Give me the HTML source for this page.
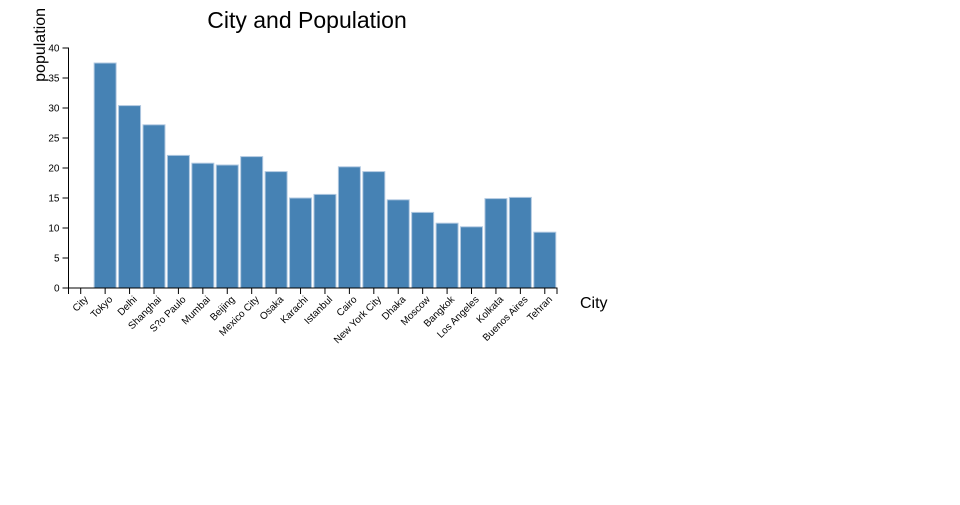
<!DOCTYPE html>
<html><head><meta charset="utf-8"><style>
body{margin:0;background:#fff;}
svg{font-family:"Liberation Sans","DejaVu Sans",sans-serif;}
</style></head><body>
<svg id="chart" width="960" height="500">
<text x="307" y="28" text-anchor="middle" font-size="23">City and Population</text>
<text transform="translate(45,8) rotate(-90)" text-anchor="end" font-size="16">population</text>
<text x="580" y="308" font-size="16">City</text>
<g id="bars"></g>
<g id="xaxis"></g>
<g id="yaxis"></g>
</svg>
<script>
const categories=["City","Tokyo","Delhi","Shanghai","S?o Paulo","Mumbai","Beijing","Mexico City","Osaka","Karachi","Istanbul","Cairo","New York City","Dhaka","Moscow","Bangkok","Los Angeles","Kolkata","Buenos Aires","Tehran"];
const population=[null,37.5,30.4,27.2,22.1,20.8,20.5,21.9,19.4,15.0,15.6,20.2,19.4,14.7,12.6,10.8,10.2,14.9,15.1,9.3];
const yTicks=[0,5,10,15,20,25,30,35,40];
const NS="http://www.w3.org/2000/svg";
const x0=68.5,x1=557,y0=288,y1=48,yMax=40;
const band=(x1-x0)/categories.length,pad=0.1;
const xs=i=>x0+i*band;
const ys=v=>y0-(v/yMax)*(y0-y1);
function mk(t,a,p){const e=document.createElementNS(NS,t);for(const k in a)e.setAttribute(k,a[k]);p.appendChild(e);return e;}
const bars=document.getElementById('bars'),xa=document.getElementById('xaxis'),ya=document.getElementById('yaxis');
population.forEach((v,i)=>{
  if(v==null)return;
  const r=mk('rect',{x:xs(i)+band*pad/2,y:ys(v),width:band*(1-pad),height:y0-ys(v),fill:'#4682b4',stroke:'#b0c8e0','stroke-width':1},bars);
  
  
});
mk('path',{d:`M${x0},${y0+6}V${y0}H${x1}V${y0+6}`,stroke:'#000',fill:'none'},xa);
categories.forEach((c,i)=>{
  const cx=xs(i)+band/2;
  mk('line',{x1:cx,x2:cx,y1:y0,y2:y0+6,stroke:'#000'},xa);
  const t=mk('text',{transform:`translate(${cx+8},${y0+12}) rotate(-45)`,'text-anchor':'end','font-size':10},xa);
  t.textContent=c;
  
  
});
mk('path',{d:`M${x0-6},${y1}H${x0}V${y0}H${x0-6}`,stroke:'#000',fill:'none'},ya);
yTicks.forEach(v=>{
  const y=ys(v);
  mk('line',{x1:x0-6,x2:x0,y1:y,y2:y,stroke:'#000'},ya);
  const t=mk('text',{x:x0-9,y:y+3.5,'text-anchor':'end','font-size':10},ya);
  t.textContent=v;
  
  
});
</script>
</body></html>
